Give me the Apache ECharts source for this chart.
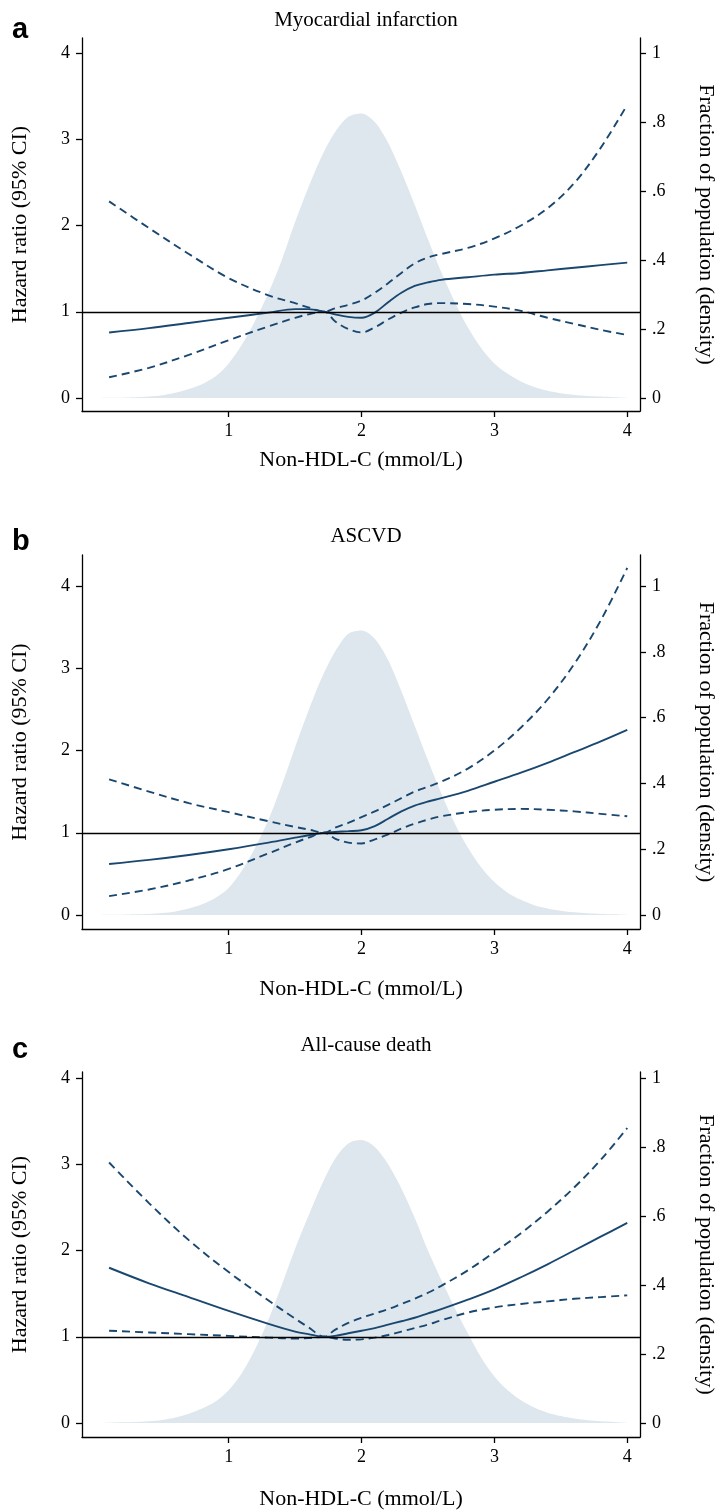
<!DOCTYPE html>
<html>
<head>
<meta charset="utf-8">
<script src="https://cdn.jsdelivr.net/npm/echarts@6/dist/echarts.min.js"></script>
<style>
  html, body { margin: 0; padding: 0; background: #fff; }
  #chart { width: 725px; height: 1511px; }
</style>
</head>
<body>
<div id="chart"></div>
<script>
// non-HDL-C values (mmol/L) where the spline curves are read
const xs = [0.1, 0.4, 0.7, 1.0, 1.3, 1.5, 1.6, 1.72, 1.8, 1.9, 2.0, 2.1, 2.2, 2.3, 2.4, 2.5, 2.6, 2.8, 3.0, 3.2, 3.4, 3.6, 3.8, 4.0]
// density is read every 0.1 from 0 to 4
const densX = [0, 0.1, 0.2, 0.3, 0.4, 0.5, 0.6, 0.7, 0.8, 0.9, 1.0, 1.1, 1.2, 1.3, 1.4, 1.5, 1.6, 1.7, 1.8, 1.9, 2.0,
  2.1, 2.2, 2.3, 2.4, 2.5, 2.6, 2.7, 2.8, 2.9, 3.0, 3.1, 3.2, 3.3, 3.4, 3.5, 3.6, 3.7, 3.8, 3.9, 4.0]

// a: myocardial infarction
const miHR = [0.76, 0.81, 0.87, 0.93, 0.99, 1.03, 1.03, 1.00, 0.97, 0.94, 0.93, 0.99, 1.11, 1.22, 1.30, 1.34, 1.37, 1.40, 1.43, 1.45, 1.48, 1.51, 1.54, 1.57]
const miUB = [2.28, 1.97, 1.67, 1.39, 1.19, 1.10, 1.05, 1.00, 1.04, 1.08, 1.13, 1.22, 1.33, 1.45, 1.56, 1.63, 1.67, 1.74, 1.85, 2.00, 2.20, 2.49, 2.90, 3.40]
const miLB = [0.24, 0.35, 0.50, 0.67, 0.83, 0.93, 0.97, 1.00, 0.89, 0.80, 0.76, 0.82, 0.91, 0.99, 1.05, 1.09, 1.10, 1.09, 1.06, 1.01, 0.93, 0.86, 0.79, 0.73]
const miDens = [0, 0.001, 0.001, 0.002, 0.004, 0.008, 0.015, 0.026, 0.04, 0.062, 0.10, 0.155, 0.225, 0.305, 0.40, 0.51, 0.61, 0.70, 0.77, 0.815, 0.825,
  0.80, 0.74, 0.655, 0.56, 0.46, 0.365, 0.28, 0.205, 0.145, 0.10, 0.07, 0.048, 0.032, 0.021, 0.014, 0.009, 0.006, 0.004, 0.002, 0.001]

// b: ASCVD
const ascHR = [0.62, 0.67, 0.73, 0.80, 0.88, 0.94, 0.97, 1.00, 1.01, 1.02, 1.03, 1.08, 1.17, 1.26, 1.33, 1.38, 1.42, 1.51, 1.62, 1.73, 1.85, 1.98, 2.11, 2.25]
const ascUB = [1.65, 1.50, 1.36, 1.25, 1.14, 1.07, 1.04, 1.00, 1.06, 1.12, 1.19, 1.26, 1.34, 1.42, 1.50, 1.56, 1.62, 1.78, 2.00, 2.28, 2.62, 3.05, 3.58, 4.22]
const ascLB = [0.23, 0.31, 0.42, 0.56, 0.75, 0.88, 0.94, 1.00, 0.93, 0.88, 0.87, 0.92, 0.98, 1.05, 1.11, 1.16, 1.20, 1.25, 1.28, 1.29, 1.28, 1.26, 1.23, 1.20]
const ascDens = [0, 0.001, 0.001, 0.002, 0.003, 0.006, 0.011, 0.02, 0.033, 0.052, 0.082, 0.135, 0.205, 0.29, 0.395, 0.51, 0.62, 0.72, 0.80, 0.855, 0.865,
  0.84, 0.775, 0.68, 0.575, 0.47, 0.37, 0.28, 0.205, 0.145, 0.10, 0.068, 0.046, 0.03, 0.02, 0.013, 0.008, 0.005, 0.003, 0.002, 0.001]

// c: all-cause death
const deathHR = [1.80, 1.62, 1.46, 1.30, 1.15, 1.06, 1.03, 1.00, 1.01, 1.04, 1.07, 1.10, 1.14, 1.18, 1.22, 1.27, 1.32, 1.43, 1.55, 1.69, 1.84, 2.00, 2.16, 2.32]
const deathUB = [3.02, 2.55, 2.12, 1.75, 1.42, 1.21, 1.11, 1.00, 1.08, 1.16, 1.22, 1.27, 1.32, 1.38, 1.44, 1.51, 1.59, 1.77, 1.98, 2.20, 2.45, 2.73, 3.05, 3.42]
const deathLB = [1.07, 1.05, 1.03, 1.01, 0.99, 0.98, 0.985, 1.00, 0.98, 0.965, 0.97, 0.99, 1.02, 1.06, 1.10, 1.14, 1.19, 1.28, 1.34, 1.38, 1.41, 1.44, 1.46, 1.48]
const deathDens = [0, 0.001, 0.002, 0.003, 0.005, 0.009, 0.016, 0.027, 0.042, 0.062, 0.095, 0.145, 0.215, 0.30, 0.40, 0.505, 0.60, 0.69, 0.765, 0.81, 0.82,
  0.80, 0.75, 0.68, 0.595, 0.50, 0.415, 0.335, 0.26, 0.19, 0.135, 0.095, 0.066, 0.045, 0.03, 0.02, 0.013, 0.008, 0.005, 0.003, 0.001]

const xTicks = [1, 2, 3, 4]
const hrTicks = [0, 1, 2, 3, 4]
const densTicks = [0, 0.2, 0.4, 0.6, 0.8, 1]

const NAVY = '#1a476f'
const FILL = '#dee7ed'
const SERIF = 'Liberation Serif'

// pixel layout of each panel: where hr 0 and hr 4 sit, and the axis extent
const panels = [
  { title: 'Myocardial infarction', letter: 'a', hr: miHR, ub: miUB, lb: miLB, dens: miDens,
    y0: 398, y4: 53, top: 38, bottom: 411, titleY: 20, letterY: 30, xNameGap: 38 },
  { title: 'ASCVD', letter: 'b', hr: ascHR, ub: ascUB, lb: ascLB, dens: ascDens,
    y0: 915, y4: 586, top: 555, bottom: 929, titleY: 536, letterY: 542, xNameGap: 49 },
  { title: 'All-cause death', letter: 'c', hr: deathHR, ub: deathUB, lb: deathLB, dens: deathDens,
    y0: 1423, y4: 1078, top: 1072, bottom: 1437, titleY: 1045, letterY: 1050, xNameGap: 51 }
]

const pairs = (x, y) => x.map((v, i) => [v, y[i]])

const tickLabel = { fontFamily: SERIF, fontSize: 18, color: '#000' }
const nameStyle = { fontFamily: SERIF, fontSize: 22, color: '#000' }
const axisLine = { show: true, onZero: false, lineStyle: { color: '#000', width: 1.3 } }
const axisTick = { show: true, length: 6, lineStyle: { color: '#000', width: 1.3 } }

const grid = [], xAxis = [], yAxis = [], series = [], graphic = []

panels.forEach((p, i) => {
  const unit = (p.y0 - p.y4) / 4
  const yMin = -(p.bottom - p.y0) / unit
  const yMax = (p.y0 - p.top) / unit

  grid.push({ left: 82, width: 567, top: p.top, height: p.bottom - p.top })

  xAxis.push({
    type: 'value', gridIndex: i, min: -0.104, max: 4.096,
    axisLine: axisLine,
    axisTick: Object.assign({}, axisTick, { customValues: xTicks }),
    axisLabel: Object.assign({}, tickLabel, { customValues: xTicks, margin: 11 }),
    splitLine: { show: false },
    name: 'Non-HDL-C (mmol/L)', nameLocation: 'middle', nameGap: p.xNameGap,
    nameTextStyle: nameStyle
  })

  yAxis.push({
    type: 'value', gridIndex: i, position: 'left', min: yMin, max: yMax,
    axisLine: axisLine,
    axisTick: Object.assign({}, axisTick, { customValues: hrTicks }),
    axisLabel: Object.assign({}, tickLabel, { customValues: hrTicks, margin: 12 }),
    splitLine: { show: false },
    name: 'Hazard ratio (95% CI)', nameLocation: 'middle', nameGap: 51,
    nameTextStyle: nameStyle
  })
  yAxis.push({
    type: 'value', gridIndex: i, position: 'right', min: yMin / 4, max: yMax / 4,
    axisLine: axisLine,
    axisTick: Object.assign({}, axisTick, { customValues: densTicks }),
    axisLabel: Object.assign({}, tickLabel, {
      customValues: densTicks, margin: 12,
      formatter: v => (v === 0 || v === 1) ? String(v) : String(+v.toFixed(1)).replace(/^0/, '')
    }),
    splitLine: { show: false },
    name: 'Fraction of population (density)', nameLocation: 'middle', nameGap: 55, nameRotate: -90,
    nameTextStyle: nameStyle
  })

  series.push({
    type: 'line', xAxisIndex: i, yAxisIndex: 2 * i + 1, data: pairs(densX, p.dens),
    smooth: 0.3, symbol: 'none', lineStyle: { width: 0 }, areaStyle: { color: FILL, opacity: 1 }, z: 1
  })
  series.push({
    type: 'line', xAxisIndex: i, yAxisIndex: 2 * i, data: pairs(xs, p.ub),
    smooth: 0.35, symbol: 'none', lineStyle: { color: NAVY, width: 1.9, type: [8, 5] }, z: 3
  })
  series.push({
    type: 'line', xAxisIndex: i, yAxisIndex: 2 * i, data: pairs(xs, p.lb),
    smooth: 0.35, symbol: 'none', lineStyle: { color: NAVY, width: 1.9, type: [8, 5] }, z: 3
  })
  series.push({
    type: 'line', xAxisIndex: i, yAxisIndex: 2 * i, data: pairs(xs, p.hr),
    smooth: 0.35, symbol: 'none', lineStyle: { color: NAVY, width: 1.9 }, z: 3,
    markLine: {
      silent: true, symbol: ['none', 'none'], label: { show: false },
      lineStyle: { color: '#000', type: 'solid', width: 1.3 },
      data: [{ yAxis: 1 }]
    }
  })

  graphic.push({
    type: 'text', x: 366, y: p.titleY,
    style: { text: p.title, font: '21px "Liberation Serif"', fill: '#000', textAlign: 'center', textVerticalAlign: 'middle' }
  })
  graphic.push({
    type: 'text', x: 12, y: p.letterY,
    style: { text: p.letter, font: 'bold 29px "Liberation Sans"', fill: '#000', textAlign: 'left', textVerticalAlign: 'middle' }
  })
})

const chart = echarts.init(document.getElementById('chart'), null, { renderer: 'canvas' })
chart.setOption({
  animation: false,
  backgroundColor: '#fff',
  grid: grid,
  xAxis: xAxis,
  yAxis: yAxis,
  series: series,
  graphic: graphic
})
</script>
</body>
</html>
